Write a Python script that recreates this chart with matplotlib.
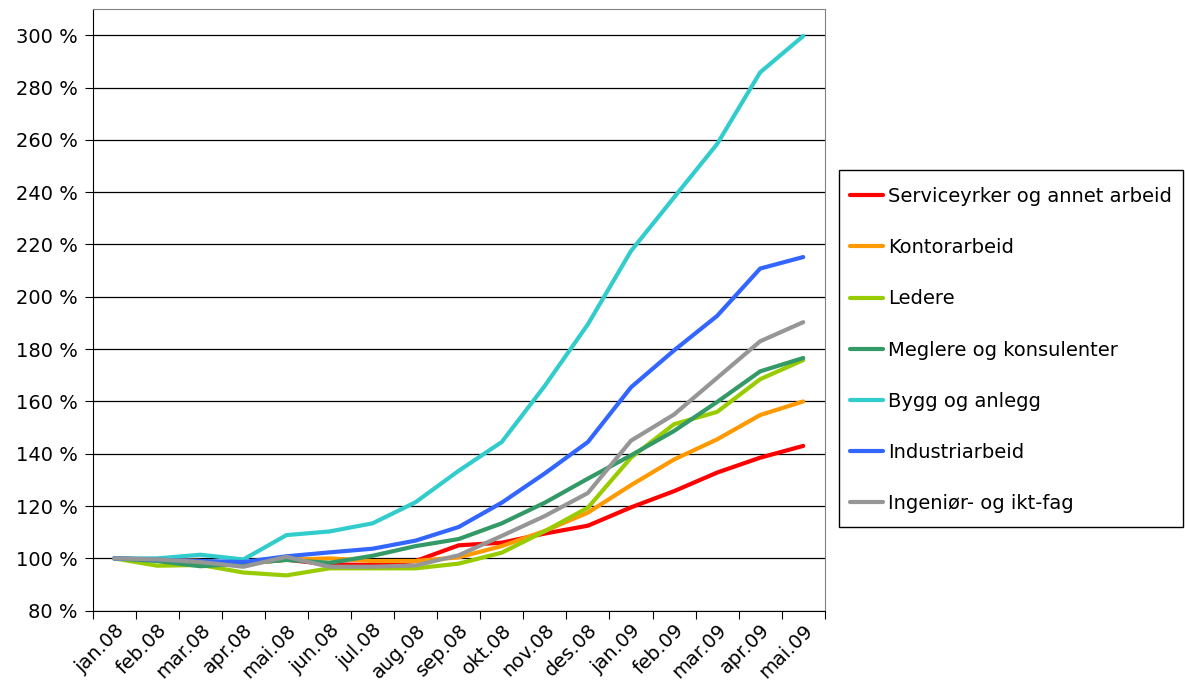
import matplotlib
matplotlib.use("Agg")
import matplotlib.pyplot as plt
from matplotlib.patches import Rectangle
from matplotlib.ticker import FuncFormatter

# månedene på x-aksen
months = ["jan.08", "feb.08", "mar.08", "apr.08", "mai.08", "jun.08",
          "jul.08", "aug.08", "sep.08", "okt.08", "nov.08", "des.08",
          "jan.09", "feb.09", "mar.09", "apr.09", "mai.09"]

# indeks, jan.08 = 100 %
service = [100, 99.5, 99, 98, 99.5, 97.7, 97.5, 99, 105, 106, 109.5, 112.5,
           119.5, 125.7, 132.8, 138.5, 143]
kontor = [100, 99.5, 99, 98, 99.5, 100, 99, 99, 100.4, 104.7, 110.5, 117.5,
          128, 137.8, 145.5, 154.8, 160]
ledere = [100, 97.2, 97.5, 94.6, 93.5, 96.2, 96.2, 96.2, 98, 102.2, 110.4, 119.4,
          138.5, 151.3, 156, 168.5, 175.8]
meglere = [100, 99, 97, 98, 99.4, 98.3, 101, 104.7, 107.4, 113.4, 121.3, 130.5,
           139.4, 148.7, 159.8, 171.5, 176.6]
bygg = [100, 100, 101.4, 99.6, 108.9, 110.3, 113.4, 121.5, 133.5, 144.5, 166, 189.5,
        217.5, 238, 258.4, 285.8, 299.7]
industri = [100, 99.5, 99, 98.6, 100.8, 102.3, 103.7, 106.8, 112, 121.3, 132.5, 144.5,
            165.4, 179.5, 192.7, 210.8, 215.2]
ingenior = [100, 99.6, 98.6, 96.8, 100.6, 96.8, 96.8, 97.3, 101.2, 108.6, 116.2, 125,
            145, 155, 169, 183, 190.3]

series = [
    ("Serviceyrker og annet arbeid", service, "#FF0000"),
    ("Kontorarbeid", kontor, "#FF9900"),
    ("Ledere", ledere, "#99CC00"),
    ("Meglere og konsulenter", meglere, "#339966"),
    ("Bygg og anlegg", bygg, "#33CCCC"),
    ("Industriarbeid", industri, "#3366FF"),
    ("Ingeniør- og ikt-fag", ingenior, "#969696"),
]

plt.rcParams['font.family'] = ['DejaVu Sans']
FS = 14
W, H = 1185, 697

fig = plt.figure(figsize=(W / 100, H / 100), dpi=100)
ax = fig.add_axes([0.0782, 0.1238, 0.6178, 0.8632])

x = list(range(len(months)))
for name, vals, col in series:
    ax.plot(x, vals, color=col, lw=3.0, label=name, solid_capstyle='round',
            solid_joinstyle='round')

ax.set_xlim(-0.5, len(months) - 0.5)
ax.set_ylim(80, 310)
ax.set_yticks(range(80, 301, 20))
ax.yaxis.set_major_formatter(FuncFormatter(lambda v, p: "%d %%" % v))
ax.grid(axis='y', color='black', lw=0.9)
ax.set_axisbelow(True)

# kategorigrenser som tick-merker
ax.set_xticks([i - 0.5 for i in range(len(months) + 1)])
ax.set_xticklabels([])
ax.set_xticks(x, minor=True)
ax.set_xticklabels(months, minor=True, rotation=45, ha='right',
                   rotation_mode='anchor', fontsize=FS)
ax.tick_params(axis='x', which='minor', length=0, pad=7)
ax.tick_params(axis='x', which='major', length=6, color='black')
ax.tick_params(axis='y', length=6, labelsize=FS, pad=5)

for s in ['top', 'right']:
    ax.spines[s].set_color('#808080')
for s in ['left', 'bottom']:
    ax.spines[s].set_color('black')

# legende uten ramme, rammen tegnes for seg
leg = ax.legend(loc='upper left', bbox_to_anchor=(850 / W, 1 - 187 / H),
                bbox_transform=fig.transFigure, fontsize=FS, frameon=False,
                handlelength=1.7, handletextpad=0.26, labelspacing=1.655,
                borderpad=0, borderaxespad=0)
fig.patches.append(Rectangle((839 / W, 1 - 527 / H), 344 / W, 357 / H,
                             transform=fig.transFigure, fill=False,
                             edgecolor='black', lw=1.0))

fig.savefig("out.png", dpi=100)
